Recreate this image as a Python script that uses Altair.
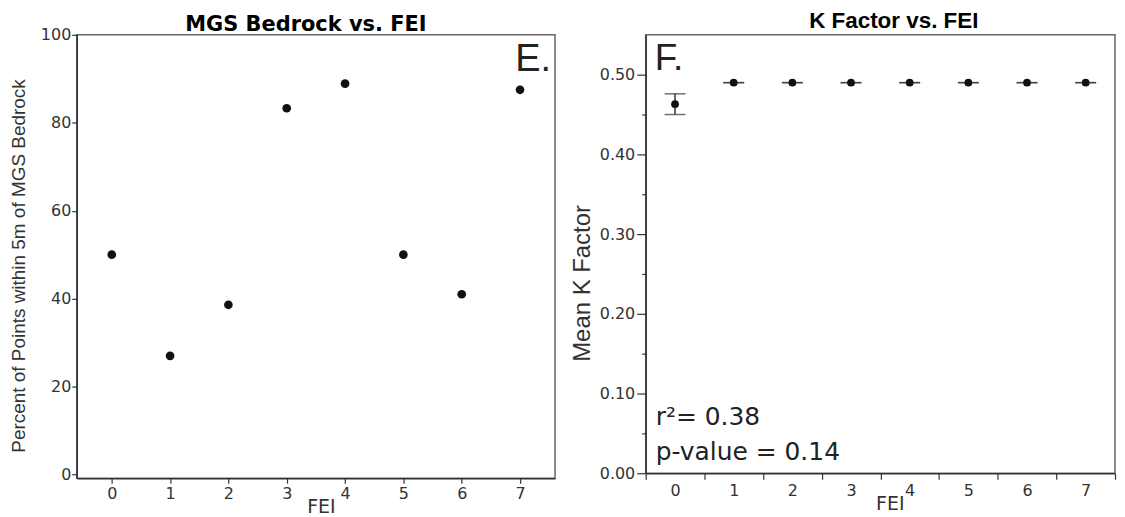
import altair as alt
import pandas as pd

FONT = "Liberation Sans"   # Arial-like
WIDE = "DejaVu Sans"       # wider face for horizontally stretched texts

# ---- data ----
fei = [0, 1, 2, 3, 4, 5, 6, 7]
pct_bedrock = [50.0, 27.0, 38.6, 83.3, 88.9, 50.0, 41.0, 87.5]
k_mean = [0.463, 0.490, 0.490, 0.490, 0.490, 0.490, 0.490, 0.490]
k_low = [0.450, 0.490, 0.490, 0.490, 0.490, 0.490, 0.490, 0.490]
k_high = [0.476, 0.490, 0.490, 0.490, 0.490, 0.490, 0.490, 0.490]
fei_ticks = [0, 1, 2, 3, 4, 5, 6, 7]
pct_ticks = [0, 20, 40, 60, 80, 100]
k_ticks = [0.00, 0.05, 0.10, 0.15, 0.20, 0.25, 0.30, 0.35, 0.40, 0.45, 0.50]
titles = ["MGS Bedrock vs. FEI", "K Factor vs. FEI"]
stats_lines = ["r\u00b2= 0.38", "p-value = 0.14"]

left_df = pd.DataFrame({"FEI": fei, "Pct": pct_bedrock})
right_df = pd.DataFrame({"FEI": fei, "Mean": k_mean, "Lo": k_low, "Hi": k_high})
one = pd.DataFrame({"k": [0]})

AX = dict(
    grid=False,
    domainColor="#333",
    domainWidth=1.5,
    tickColor="#333",
    tickWidth=1.2,
    labelColor="#333",
    titleColor="#333",
    labelFont=WIDE,
    titleFontWeight="normal",
)


def label(text, font, size, x, y, align="left", weight="normal", color="#222"):
    return alt.Chart(one).mark_text(
        text=text, font=font, fontSize=size, fontWeight=weight, color=color,
        align=align, baseline="alphabetic",
    ).encode(x=alt.value(x), y=alt.value(y))


# ---- left panel ----
LW, LH = 480, 445
left_pts = alt.Chart(left_df).mark_circle(size=76, color="#111", opacity=1).encode(
    x=alt.X(
        "FEI:Q",
        scale=alt.Scale(domain=[-0.6, 7.6], nice=False, zero=False),
        axis=alt.Axis(values=fei_ticks, format="d", title="FEI", tickSize=5,
                      labelPadding=2, labelFontSize=16, titleFont=WIDE,
                      titleFontSize=19, titlePadding=-4, titleX=245, **AX),
    ),
    y=alt.Y(
        "Pct:Q",
        scale=alt.Scale(domain=[-0.84, 100], nice=False, zero=False),
        axis=alt.Axis(values=pct_ticks, format="d",
                      title="Percent of Points within 5m of MGS Bedrock",
                      titleFont=FONT, tickSize=5, labelPadding=1,
                      labelFontSize=16, titleFontSize=19, titlePadding=12,
                      titleY=LH / 2 + 9, **AX),
    ),
)
left = alt.layer(
    left_pts,
    label("E.", FONT, 38, LW - 4, 36.5, align="right"),
    label(titles[0], WIDE, 21, LW / 2 - 10, -4, align="center", weight="bold", color="#000"),
).properties(width=LW, height=LH)

# ---- right panel ----
RW, RH = 471, 440
xk = alt.X(
    "FEI:O",
    scale=alt.Scale(type="band", paddingInner=0, paddingOuter=0),
    axis=alt.Axis(title="FEI", labelAngle=0, tickBand="extent", tickSize=6,
                  labelPadding=3, labelFontSize=16, titleFont=WIDE,
                  titleFontSize=19, titlePadding=-4, titleX=245, **AX),
)
yk_scale = alt.Scale(domain=[0, 0.55], nice=False, zero=False)
yk_axis = alt.Axis(
    values=k_ticks, title="Mean K Factor", titleFont=FONT, titleY=RH / 2 + 29,
    labelExpr="round(datum.value*100) % 10 == 0 ? format(datum.value, '.2f') : ''",
    tickSize={"condition": {"test": "round(datum.value*100) % 10 == 0", "value": 9}, "value": 4},
    labelPadding=2, labelFontSize=16, titleFontSize=24, titlePadding=5, **AX,
)

err = alt.Chart(right_df).mark_rule(color="#333", strokeWidth=1.5).encode(
    x=xk, y=alt.Y("Lo:Q", scale=yk_scale, axis=yk_axis), y2="Hi:Q"
)
cap_lo = alt.Chart(right_df).mark_tick(color="#333", size=21, thickness=1.5).encode(
    x=xk, y=alt.Y("Lo:Q", scale=yk_scale, axis=yk_axis)
)
cap_hi = alt.Chart(right_df).mark_tick(color="#333", size=21, thickness=1.5).encode(
    x=xk, y=alt.Y("Hi:Q", scale=yk_scale, axis=yk_axis)
)
k_pts = alt.Chart(right_df).mark_circle(size=60, color="#111", opacity=1).encode(
    x=xk, y=alt.Y("Mean:Q", scale=yk_scale, axis=yk_axis)
)

right = alt.layer(
    err, cap_lo, cap_hi, k_pts,
    label("F.", FONT, 37, 9, 35.5),
    label(stats_lines[0], WIDE, 25, 10, RH - 48.7),
    label(stats_lines[1], WIDE, 25, 10, RH - 13.7),
    label(titles[1], FONT, 22.5, 249, -6.7, align="center", weight="bold", color="#000"),
).properties(width=RW, height=RH)

chart = alt.hconcat(left, right, spacing=13).properties(
    padding={"left": 0, "top": 0, "right": 0, "bottom": 0},
    background="white",
).configure_view(stroke="#666", strokeWidth=1.5)

chart.save("out.html", embed_options={"renderer": "svg", "actions": False})
